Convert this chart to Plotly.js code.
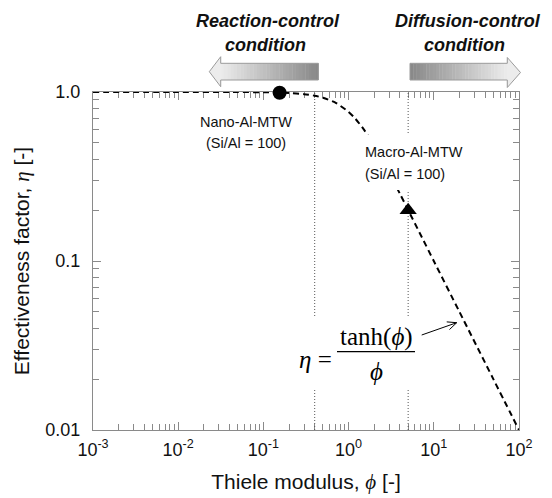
<!DOCTYPE html>
<html>
<head>
<meta charset="utf-8">
<script src="https://cdn.plot.ly/plotly-3.0.1.min.js"></script>
<style>html,body{margin:0;padding:0;background:#fff;}#chart{width:552px;height:498px;}</style>
</head>
<body>
<div id="chart"></div>
<script>
// ---- data ----
const phiCurve = [0.001, 0.01, 0.05, 0.1, 0.2, 0.3, 0.4, 0.5, 0.7, 1, 1.2, 1.5, 2, 2.5, 3, 4, 5, 7, 10, 20, 50, 100];
const etaCurve = [1.0, 1.0, 0.999, 0.997, 0.987, 0.971, 0.951, 0.924, 0.866, 0.762, 0.695, 0.603, 0.482, 0.395, 0.332, 0.25, 0.2, 0.143, 0.1, 0.05, 0.02, 0.01];
const nanoPhi = [0.155];
const nanoEta = [0.99];
const macroPhi = [5];
const macroEta = [0.2];
const boundaryPhi = [0.4, 5];
const xTickVals = [0.001, 0.01, 0.1, 1, 10, 100];
const xTickText = ['10<sup>-3</sup>', '10<sup>-2</sup>', '10<sup>-1</sup>', '10<sup>0</sup>', '10<sup>1</sup>', '10<sup>2</sup>'];
const yTickVals = [0.01, 0.1, 1];
const yTickText = ['0.01', '0.1', '1.0'];
const yRangeLog = [-2, 0];
const xRangeLog = [-3, 2];

// ---- layout helpers (pixel -> paper) ----
const W = 552, H = 498, ML = 93, MR = 33, MT = 92, MB = 68;
const PW = W - ML - MR, PH = H - MT - MB;
const PX = p => (p - ML) / PW;
const PY = p => (H - MB - p) / PH;

const SANS = 'Liberation Sans, Arial, sans-serif';
const SERIF = 'Liberation Serif, DejaVu Serif, serif';
const greek = s => '<span style="font-family:Liberation Serif, DejaVu Serif, serif"><i>' + s + '</i></span>';

// boundary lines from boundaryPhi
const bx = [], by = [];
boundaryPhi.forEach((v, i) => {
  if (i) { bx.push(null); by.push(null); }
  bx.push(v, v); by.push(Math.pow(10, yRangeLog[0]), Math.pow(10, yRangeLog[1]));
});

const traces = [
  {x: bx, y: by, mode: 'lines', line: {color: '#555', width: 1, dash: '1px,2px'}, hoverinfo: 'skip', showlegend: false},
  {x: phiCurve, y: etaCurve, mode: 'lines', line: {color: '#000', width: 2, dash: '6px,4px', shape: 'spline', smoothing: 0.6}, showlegend: false},
  {x: nanoPhi, y: nanoEta, mode: 'markers', marker: {symbol: 'circle', size: 14, color: '#000'}, cliponaxis: false, showlegend: false},
  {x: macroPhi, y: macroEta, mode: 'markers', marker: {symbol: 'triangle-up', size: 15, color: '#000'}, cliponaxis: false, showlegend: false}
];

// gradient block arrows (decoration)
function gray(t) { // t: 0 light -> 1 dark
  const l = [236, 236, 236], d = [135, 135, 135];
  const c = l.map((v, i) => Math.round(v + (d[i] - v) * t));
  return 'rgb(' + c.join(',') + ')';
}
function arrowShapes(dir, bodyX0, bodyX1, top, bot, headBase, headTop, headBot, tip, tipY) {
  const s = [];
  const N = 30;
  for (let i = 0; i < N; i++) {
    const a = bodyX0 + (bodyX1 - bodyX0) * i / N;
    const b = bodyX0 + (bodyX1 - bodyX0) * (i + 1) / N + 0.4;
    let t = (i + 0.5) / N;
    if (dir === 'right') t = 1 - t;
    s.push({type: 'rect', xref: 'paper', yref: 'paper', x0: PX(a), x1: PX(b), y0: PY(bot), y1: PY(top),
      fillcolor: gray(t), line: {width: 0}, layer: 'above'});
  }
  let path;
  if (dir === 'left') {
    s.push({type: 'path', xref: 'paper', yref: 'paper', layer: 'above', fillcolor: gray(0), line: {width: 0},
      path: `M${PX(tip)},${PY(tipY)} L${PX(headBase + 0.5)},${PY(headTop)} L${PX(headBase + 0.5)},${PY(headBot)} Z`});
    path = `M${PX(tip)},${PY(tipY)} L${PX(headBase)},${PY(headTop)} L${PX(headBase)},${PY(top)} L${PX(bodyX1)},${PY(top)} L${PX(bodyX1)},${PY(bot)} L${PX(headBase)},${PY(bot)} L${PX(headBase)},${PY(headBot)} Z`;
  } else {
    s.push({type: 'path', xref: 'paper', yref: 'paper', layer: 'above', fillcolor: gray(0), line: {width: 0},
      path: `M${PX(tip)},${PY(tipY)} L${PX(headBase - 0.5)},${PY(headTop)} L${PX(headBase - 0.5)},${PY(headBot)} Z`});
    path = `M${PX(tip)},${PY(tipY)} L${PX(headBase)},${PY(headTop)} L${PX(headBase)},${PY(top)} L${PX(bodyX0)},${PY(top)} L${PX(bodyX0)},${PY(bot)} L${PX(headBase)},${PY(bot)} L${PX(headBase)},${PY(headBot)} Z`;
  }
  s.push({type: 'path', xref: 'paper', yref: 'paper', layer: 'above', line: {color: '#9a9a9a', width: 1}, path: path});
  return s;
}

// pointer arrow to the curve (line + open chevron head)
const tipPx = [456.7, 322.7], tailPx = [421.7, 335];
const ang = Math.atan2(tipPx[1] - tailPx[1], tipPx[0] - tailPx[0]);
const hl = 10, hw = 0.42;
const h1 = [tipPx[0] - hl * Math.cos(ang - hw), tipPx[1] - hl * Math.sin(ang - hw)];
const h2 = [tipPx[0] - hl * Math.cos(ang + hw), tipPx[1] - hl * Math.sin(ang + hw)];

const shapes = [
  // white boxes behind labels (cover curve and dotted lines)
  {type: 'rect', xref: 'paper', yref: 'paper', layer: 'above', x0: PX(358), x1: PX(462), y0: PY(190), y1: PY(135), fillcolor: '#fff', line: {width: 0}},
  {type: 'rect', xref: 'paper', yref: 'paper', layer: 'above', x0: PX(292), x1: PX(418), y0: PY(388), y1: PY(317), fillcolor: '#fff', line: {width: 0}},
  // fraction bar
  {type: 'line', xref: 'paper', yref: 'paper', layer: 'above', x0: PX(337), x1: PX(415), y0: PY(351.7), y1: PY(351.7), line: {color: '#000', width: 1.2}},
  // pointer arrow
  {type: 'line', xref: 'paper', yref: 'paper', layer: 'above', x0: PX(tailPx[0]), y0: PY(tailPx[1]), x1: PX(tipPx[0]), y1: PY(tipPx[1]), line: {color: '#000', width: 1}},
  {type: 'path', xref: 'paper', yref: 'paper', layer: 'above', line: {color: '#000', width: 1},
   path: `M${PX(h1[0])},${PY(h1[1])} L${PX(tipPx[0])},${PY(tipPx[1])} L${PX(h2[0])},${PY(h2[1])}`},
  ...arrowShapes('left', 220.7, 318.3, 63.3, 80, 220.7, 56.7, 86.7, 209.3, 71.7),
  ...arrowShapes('right', 410, 507.3, 63.3, 80, 507.3, 57.5, 87.5, 520.5, 72.5)
];

function txt(text, px, py, size, opts, fontExtra) {
  return Object.assign({xref: 'paper', yref: 'paper', x: PX(px), y: PY(py), text: text, showarrow: false,
    xanchor: 'center', yanchor: 'middle', font: Object.assign({family: SANS, size: size, color: '#111'}, fontExtra || {})}, opts || {});
}
const BI = {weight: 'bold', style: 'italic'};
const SERIF_UP = {family: SERIF, color: '#000'};

const annotations = [
  txt('Reaction-control', 267.5, 21, 18, null, BI),
  txt('condition', 265, 45, 18, null, BI),
  txt('Diffusion-control', 467.5, 21, 18, null, BI),
  txt('condition', 464, 45, 18, null, BI),
  txt('Nano-Al-MTW', 245.8, 121.7, 14.5),
  txt('(Si/Al = 100)', 245.8, 142.7, 14.5),
  txt('Macro-Al-MTW', 363, 151.7, 14.5, {xanchor: 'left'}),
  txt('(Si/Al = 100)', 363, 173.5, 14.5, {xanchor: 'left'}),
  txt('<i>η</i> =', 334, 359, 25, {xanchor: 'right'}, SERIF_UP),
  txt('tanh(<i>ϕ</i>)', 376, 337, 25, null, SERIF_UP),
  txt('<i>ϕ</i>', 376, 371, 25, null, SERIF_UP)
];

const axisCommon = {
  type: 'log', showline: true, linecolor: '#8a8a8a', linewidth: 1, mirror: 'allticks',
  ticks: 'inside', ticklen: 8, tickcolor: '#8a8a8a', tickwidth: 1,
  showgrid: false, zeroline: false, tickmode: 'array', layer: 'below traces',
  tickfont: {family: SANS, size: 18, color: '#111'},
  minor: {ticks: 'inside', ticklen: 6, tickcolor: '#8a8a8a', tickwidth: 1, dtick: 'D1', showgrid: false}
};

const layout = {
  width: W, height: H,
  margin: {l: ML, r: MR, t: MT, b: MB, pad: 0},
  paper_bgcolor: '#fff', plot_bgcolor: '#fff',
  showlegend: false,
  xaxis: Object.assign({}, axisCommon, {
    range: xRangeLog, tickvals: xTickVals, ticktext: xTickText, ticklabelstandoff: 3,
    title: {text: 'Thiele modulus, ' + greek('ϕ') + ' [-]', font: {family: SANS, size: 21, color: '#111'}, standoff: 15}
  }),
  yaxis: Object.assign({}, axisCommon, {
    range: yRangeLog, tickvals: yTickVals, ticktext: yTickText, ticklabelstandoff: 8,
    title: {text: 'Effectiveness factor, ' + greek('η') + ' [-]', font: {family: SANS, size: 21, color: '#111'}, standoff: 10}
  }),
  shapes: shapes,
  annotations: annotations
};

Plotly.newPlot('chart', traces, layout, {staticPlot: true, displayModeBar: false});
</script>
</body>
</html>
